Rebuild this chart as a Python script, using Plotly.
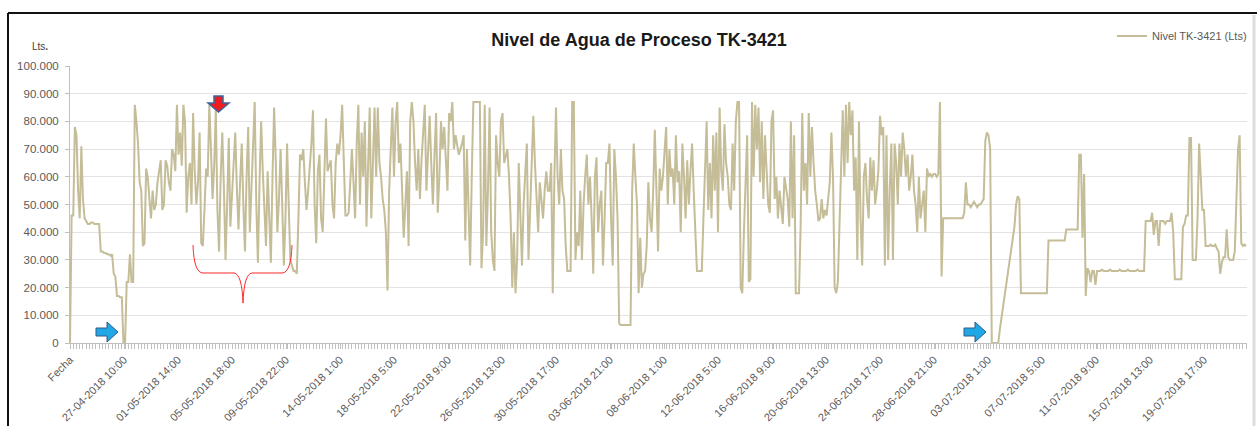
import plotly.graph_objects as go

# --- data (level in thousands of litres), one sample every 3 hours ---
STEP_HOURS = 3
nivel_k = [
    # 23-04 .. 28-04
    0, 46, 46, 78, 75, 55, 45, 71, 52, 45,
    44, 43, 43, 43.5, 43.5, 43, 43, 43, 43, 33,
    33, 32.5, 32.5, 32, 32, 31.5, 32, 25, 24, 17,
    17, 16.5, 16.5, 0, 0, 22, 22, 32, 22, 22,
    86,
    80, 72, 58, 55, 35, 36, 63, 60, 52, 45,
    55, 48, 50, 58, 62, 66, 48, 50, 66, 64,
    58, 55, 70, 68, 62, 86, 68, 76, 64, 86,
    80, 47, 60, 65, 50, 83, 62, 50, 58, 76,
    36, 35, 48, 63, 60, 86, 70, 52, 64, 84,
    48, 33, 60, 76, 56, 30, 50, 74, 42, 54,
    66, 76, 56, 41, 58, 72, 50, 33, 60, 78,
    40, 55, 70, 87, 50, 29, 58, 80, 62, 45,
    35, 62, 48, 29, 60, 85, 66, 40, 52, 70,
    50, 28, 45, 72, 50, 30, 28, 26, 26, 25,
    45, 68,
    66, 70, 58, 48, 55, 62, 72, 84, 50, 36,
    62, 68, 45, 40, 65, 81, 62, 64, 66, 50,
    45, 65, 72, 68, 75, 86, 60, 46, 46, 47,
    58, 70, 58, 45, 72, 86, 50, 76, 60, 80,
    42, 60, 85, 45, 70, 85, 60, 85, 65, 60,
    52, 48, 40, 19, 55, 70, 85, 60, 80, 87,
    65, 72, 50, 38, 50, 62, 35, 80, 87, 80,
    65, 55, 70, 52, 66, 75, 86, 55, 68, 82,
    65, 50, 68, 83, 47, 60, 80, 70, 78, 65,
    55, 83, 80, 87, 70, 75, 72, 68, 70, 72,
    75, 37, 70, 45, 28, 60, 87, 87, 87, 87,
    87, 27, 40, 86, 35, 55, 85, 40, 30, 26,
    75, 65, 60, 80, 83, 65, 68, 70, 60, 45,
    20, 40, 18, 30, 65, 45, 28, 50, 62, 72,
    30, 50, 65, 82, 65, 50, 40, 58, 52, 45,
    55, 62, 55,
    55, 65, 18, 60, 85, 60, 50, 70, 55, 52,
    35, 26, 26, 26, 87, 87, 30, 40, 35, 55,
    30, 50, 60, 68, 50, 60, 45, 25, 60, 67,
    40, 50, 55, 28, 45, 65, 65, 72, 45, 28,
    70, 60, 45, 7, 6.5, 6.5, 6.5, 6.5, 6.5, 6.5,
    6.5, 55, 72, 60, 50, 18, 38, 20, 25, 26,
    35, 58, 45, 40, 55, 77, 50, 33, 63, 55,
    60, 70, 78, 50, 70, 60, 63, 50, 75, 58,
    62, 40, 72, 60, 45, 66, 50, 62, 72, 55,
    38, 26, 26, 26, 26, 45, 62, 80, 48, 65,
    45, 75, 55, 76, 40, 85, 62, 55, 79, 65,
    60, 50, 48, 72, 55, 80, 87, 87, 20, 18,
    40, 62, 75, 22, 23, 87, 60, 86, 70, 85,
    58, 80, 52, 75, 62, 50, 47, 80, 84, 52,
    60, 45, 55, 50, 43, 60, 55,
    52, 42, 80, 45, 75, 18, 18, 18, 42, 83,
    55, 65, 50, 83, 60, 78, 65, 55, 50, 44,
    45, 52, 45, 48, 46, 52, 58, 76, 60, 20,
    18, 22, 40, 60, 84, 60, 86, 65, 87, 75,
    84, 55, 67, 30, 80, 45, 28, 60, 65, 52,
    45, 67, 55, 66, 50, 55, 62, 82, 75, 78,
    28, 75, 30, 55, 72, 30, 72, 65, 50, 72,
    60, 76, 70, 60, 68, 55, 60, 68, 55, 50,
    40, 60, 45, 50, 55, 40, 63, 60, 61, 60,
    61, 61, 60, 61, 87, 24, 45, 45, 45, 45,
    45, 45, 45, 45, 45, 45, 45, 45, 45, 47,
    58, 50, 50, 49, 50, 51, 50, 49, 50, 50,
    51, 52, 73, 76, 75, 70, 0, 0, 0, 0,
    0, 5,
    9, 13, 18, 22, 26, 30, 33, 37, 42, 50,
    53, 52, 18, 18, 18, 18, 18, 18, 18, 18,
    18, 18, 18, 18, 18, 18, 18, 18, 18, 37,
    37, 37, 37, 37, 37, 37, 37, 37, 37, 37,
    41, 41, 41, 41, 41, 41, 41, 41, 68, 68,
    38, 61, 17, 27, 26, 22, 26, 26, 21, 26,
    26, 26, 26.5, 26, 26, 26, 26, 26.5, 26, 26,
    26, 26, 26, 26.5, 26, 26, 26, 26, 26.5, 26,
    26, 26, 26, 26, 26.5, 26, 26, 26, 26, 44,
    44, 44, 44, 47, 39, 44, 44, 35, 44, 44,
    44, 43, 44, 44, 44, 47, 40, 23, 23, 23,
    23, 23, 42, 43, 46, 46, 74, 74, 30, 30,
    30, 45, 72, 60, 48, 48, 35, 35, 35, 35.5,
    35, 35, 35.5, 34, 33, 25, 29, 31, 31, 41,
    31, 30, 30, 30, 33, 55, 70, 75, 36, 35,
    35.5, 35,
]
horas = [i * STEP_HOURS for i in range(len(nivel_k))]

x_tick_labels = [
    "Fecha", "27-04-2018 10:00", "01-05-2018 14:00", "05-05-2018 18:00",
    "09-05-2018 22:00", "14-05-2018 1:00", "18-05-2018 5:00", "22-05-2018 9:00",
    "26-05-2018 13:00", "30-05-2018 17:00", "03-06-2018 21:00", "08-06-2018 1:00",
    "12-06-2018 5:00", "16-06-2018 9:00", "20-06-2018 13:00", "24-06-2018 17:00",
    "28-06-2018 21:00", "03-07-2018 1:00", "07-07-2018 5:00", "11-07-2018 9:00",
    "15-07-2018 13:00", "19-07-2018 17:00",
]
x_tick_hours = [i * 100 for i in range(len(x_tick_labels))]

y_tick_vals = [0, 10, 20, 30, 40, 50, 60, 70, 80, 90, 100]
y_tick_labels = ["0", "10.000", "20.000", "30.000", "40.000", "50.000",
                 "60.000", "70.000", "80.000", "90.000", "100.000"]

# --- geometry helpers (pixel -> paper) for decorative shapes ---
W, H = 1257, 426
ML, MR, MT, MB = 70, 10, 66, 83
PW, PH = W - ML - MR, H - MT - MB


def px(x):
    return (x - ML) / PW


def py(y):
    return (H - MB - y) / PH


def path(points, close=True):
    s = "M " + " L ".join(f"{px(a):.5f},{py(b):.5f}" for a, b in points)
    return s + (" Z" if close else "")


AXIS_GREY = "#bfbfbf"
TEXT_GREY = "#595959"
LINE_TAN = "#c4bd97"

fig = go.Figure()
fig.add_trace(go.Scatter(
    x=horas, y=nivel_k, mode="lines", name="Nivel TK-3421 (Lts)",
    line=dict(color=LINE_TAN, width=2),
))

shapes = []
# outer document frame (black top and left)
shapes.append(dict(type="line", xref="paper", yref="paper",
                   x0=px(8), x1=px(1257), y0=py(13), y1=py(13),
                   line=dict(color="#111111", width=2)))
shapes.append(dict(type="line", xref="paper", yref="paper",
                   x0=px(8), x1=px(8), y0=py(13), y1=py(426),
                   line=dict(color="#111111", width=2)))
# light grey right edge
shapes.append(dict(type="line", xref="paper", yref="paper",
                   x0=px(1254), x1=px(1254), y0=py(15), y1=py(426),
                   line=dict(color="#dddddd", width=3)))


def blue_arrow(x0, yc):
    pts = [(x0, yc - 4), (x0 + 11, yc - 4), (x0 + 11, yc - 10), (x0 + 22, yc),
           (x0 + 11, yc + 10), (x0 + 11, yc + 4), (x0, yc + 4)]
    return dict(type="path", xref="paper", yref="paper", path=path(pts),
                fillcolor="#1fa7e6", line=dict(color="#2e5c8a", width=1))


shapes.append(blue_arrow(96, 332))
shapes.append(blue_arrow(964, 332))

# red down arrow with blue outline
red_pts = [(214, 96), (223, 96), (223, 103), (229, 103), (218.5, 112),
           (208, 103), (214, 103)]
shapes.append(dict(type="path", xref="paper", yref="paper", path=path(red_pts),
                   fillcolor="#ee1c1c", line=dict(color="#3a64a0", width=1.5)))

# red curly brace
brace = (
    f"M {px(193):.5f},{py(245):.5f} "
    f"Q {px(194):.5f},{py(273):.5f} {px(203):.5f},{py(273):.5f} "
    f"L {px(234):.5f},{py(273):.5f} "
    f"Q {px(242):.5f},{py(274):.5f} {px(243):.5f},{py(303):.5f} "
    f"Q {px(244):.5f},{py(274):.5f} {px(252):.5f},{py(273):.5f} "
    f"L {px(282):.5f},{py(273):.5f} "
    f"Q {px(291):.5f},{py(273):.5f} {px(292):.5f},{py(245):.5f}"
)
shapes.append(dict(type="path", xref="paper", yref="paper", path=brace,
                   line=dict(color="#ff2a2a", width=1)))

fig.update_layout(
    width=W, height=H,
    margin=dict(l=ML, r=MR, t=MT, b=MB, pad=0, autoexpand=False),
    paper_bgcolor="white", plot_bgcolor="white",
    font=dict(family="Liberation Sans, Arial, sans-serif", size=11, color=TEXT_GREY),
    title=dict(text="<b>Nivel de Agua de Proceso TK-3421</b>",
               x=639 / W, xref="container", xanchor="center",
               y=1 - 40 / H, yref="container", yanchor="middle",
               font=dict(family="Liberation Sans, Arial, sans-serif", size=18,
                         color="#1a1a1a")),
    showlegend=True,
    legend=dict(xref="container", yref="container",
                x=1252 / W, xanchor="right", y=1 - 36 / H, yanchor="middle",
                bgcolor="rgba(0,0,0,0)", font=dict(size=11, color=TEXT_GREY),
                itemwidth=30),
    xaxis=dict(
        range=[0, PW / 0.54], tickmode="array", tickvals=x_tick_hours,
        ticktext=x_tick_labels, tickangle=-45, showgrid=False, automargin=False,
        showline=True, linecolor=AXIS_GREY, linewidth=1,
        ticks="outside", ticklen=5, tickcolor=AXIS_GREY,
        minor=dict(tickmode="linear", tick0=0, dtick=6, ticks="outside",
                   ticklen=5, tickcolor=AXIS_GREY, showgrid=False),
        zeroline=False, tickfont=dict(size=11, color=TEXT_GREY),
    ),
    yaxis=dict(
        range=[0, 100], tickmode="array", tickvals=y_tick_vals, automargin=False,
        ticktext=y_tick_labels, showgrid=True, gridcolor="#e3e3e3", gridwidth=1,
        showline=True, linecolor=AXIS_GREY, linewidth=1,
        ticks="outside", ticklen=4, tickcolor=AXIS_GREY, ticklabelstandoff=4,
        zeroline=False, tickfont=dict(size=11.5, color=TEXT_GREY),
    ),
    shapes=shapes,
    annotations=[dict(text="Lts<b>.</b>", xref="paper", yref="paper",
                      x=px(30), y=py(46), xanchor="left", yanchor="middle",
                      showarrow=False, font=dict(size=10, color="#404040"))],
)

fig.write_html(
    "out.html",
    config={"displayModeBar": False},
    post_script="document.body.style.margin='0px';document.body.style.overflow='hidden';",
)
